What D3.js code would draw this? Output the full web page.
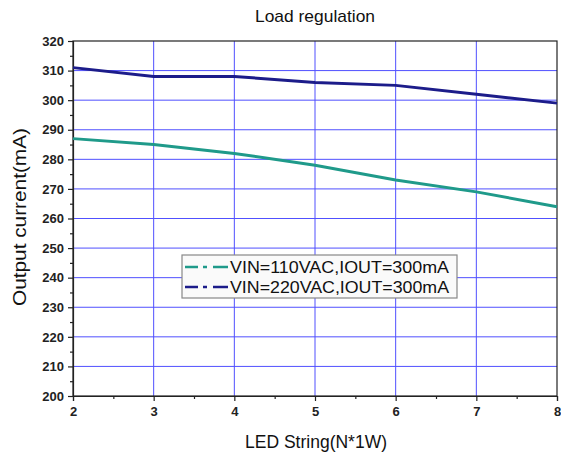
<!DOCTYPE html>
<html><head><meta charset="utf-8">
<script src="https://cdn.jsdelivr.net/npm/d3@7"></script>
<style>body{margin:0;background:#fff;} svg{display:block;font-family:"Liberation Sans",Arial,sans-serif;}</style>
</head><body>
<svg id="c" width="561" height="455"></svg>
<script>
const ledString = [2, 3, 4, 5, 6, 7, 8];
const vin110 = [287, 285, 282, 278, 273, 269, 264];
const vin220 = [311, 308, 308, 306, 305, 302, 299];
const seriesNames = ["VIN=110VAC,IOUT=300mA", "VIN=220VAC,IOUT=300mA"];
const seriesColors = ["#1f9a8a", "#1c1c8a"];
const yTicks = d3.range(200, 321, 10);
const xTicks = [2, 3, 4, 5, 6, 7, 8];

const svg = d3.select("#c");
const m = {l: 73, r: 557, t: 41, b: 396};
const x = d3.scaleLinear().domain([2, 8]).range([m.l, m.r]);
const y = d3.scaleLinear().domain([200, 320]).range([m.b, m.t]);

// grid
svg.append("g").selectAll("line").data(xTicks.slice(1, -1)).join("line")
  .attr("x1", d => x(d)).attr("x2", d => x(d)).attr("y1", m.t).attr("y2", m.b)
  .attr("stroke", "#5050ff").attr("stroke-width", 1);
svg.append("g").selectAll("line").data(yTicks.slice(1, -1)).join("line")
  .attr("y1", d => y(d)).attr("y2", d => y(d)).attr("x1", m.l).attr("x2", m.r)
  .attr("stroke", "#5050ff").attr("stroke-width", 1);

// frame
svg.append("rect").attr("x", m.l).attr("y", m.t).attr("width", m.r - m.l).attr("height", m.b - m.t)
  .attr("fill", "none").attr("stroke", "#222").attr("stroke-width", 1.2);

// axes
svg.append("g").attr("transform", `translate(0,${m.b})`)
  .call(d3.axisBottom(x).tickValues(xTicks).tickFormat(d3.format("d")).tickSize(5).tickPadding(6));
svg.append("g").attr("transform", `translate(0,${m.b})`)
  .call(d3.axisBottom(x).tickValues(d3.range(2.5, 8, 1)).tickFormat("").tickSize(3))
  .select(".domain").remove();
svg.append("g").attr("transform", `translate(${m.l},0)`)
  .call(d3.axisLeft(y).tickValues(yTicks).tickSize(5).tickPadding(4));
svg.append("g").attr("transform", `translate(${m.l},0)`)
  .call(d3.axisLeft(y).tickValues(d3.range(205, 320, 10)).tickFormat("").tickSize(3))
  .select(".domain").remove();
svg.selectAll(".tick text").attr("font-size", 13).attr("font-weight", "bold")
  .attr("font-family", "'Liberation Sans',Arial,sans-serif").attr("fill", "#222");
svg.selectAll(".domain, .tick line").attr("stroke", "#222").attr("stroke-width", 1.2);

// lines
const line = d3.line().x((d, i) => x(ledString[i])).y(d => y(d));
[vin110, vin220].forEach((s, i) => {
  svg.append("path").datum(s).attr("d", line).attr("fill", "none")
    .attr("stroke", seriesColors[i]).attr("stroke-width", 3);
});

// titles
svg.append("text").attr("x", 315).attr("y", 22).attr("text-anchor", "middle").attr("font-size", 17)
  .attr("textLength", 120).attr("lengthAdjust", "spacingAndGlyphs").attr("fill", "#111").text("Load regulation");
svg.append("text").attr("x", 316).attr("y", 448).attr("text-anchor", "middle").attr("font-size", 18)
  .attr("textLength", 142).attr("lengthAdjust", "spacingAndGlyphs").attr("fill", "#111").text("LED String(N*1W)");
svg.append("text").attr("transform", "translate(26,217) rotate(-90)").attr("text-anchor", "middle").attr("font-size", 18)
  .attr("textLength", 178).attr("lengthAdjust", "spacingAndGlyphs").attr("fill", "#111").text("Output current(mA)");

// legend
const lg = svg.append("g").attr("transform", "translate(182,255)");
lg.append("rect").attr("width", 275).attr("height", 43).attr("fill", "#fafafa").attr("stroke", "#888").attr("stroke-width", 1.2);
seriesNames.forEach((n, i) => {
  const yy = 12 + i * 20;
  lg.append("line").attr("x1", 3).attr("x2", 46).attr("y1", yy).attr("y2", yy)
    .attr("stroke", seriesColors[i]).attr("stroke-width", 2.5).attr("stroke-dasharray", "13,5,4,6,15");
  lg.append("text").attr("x", 48).attr("y", yy + 6).attr("font-size", 17)
    .attr("textLength", 219).attr("lengthAdjust", "spacingAndGlyphs").attr("fill", "#111").text(n);
});
</script>
</body></html>
